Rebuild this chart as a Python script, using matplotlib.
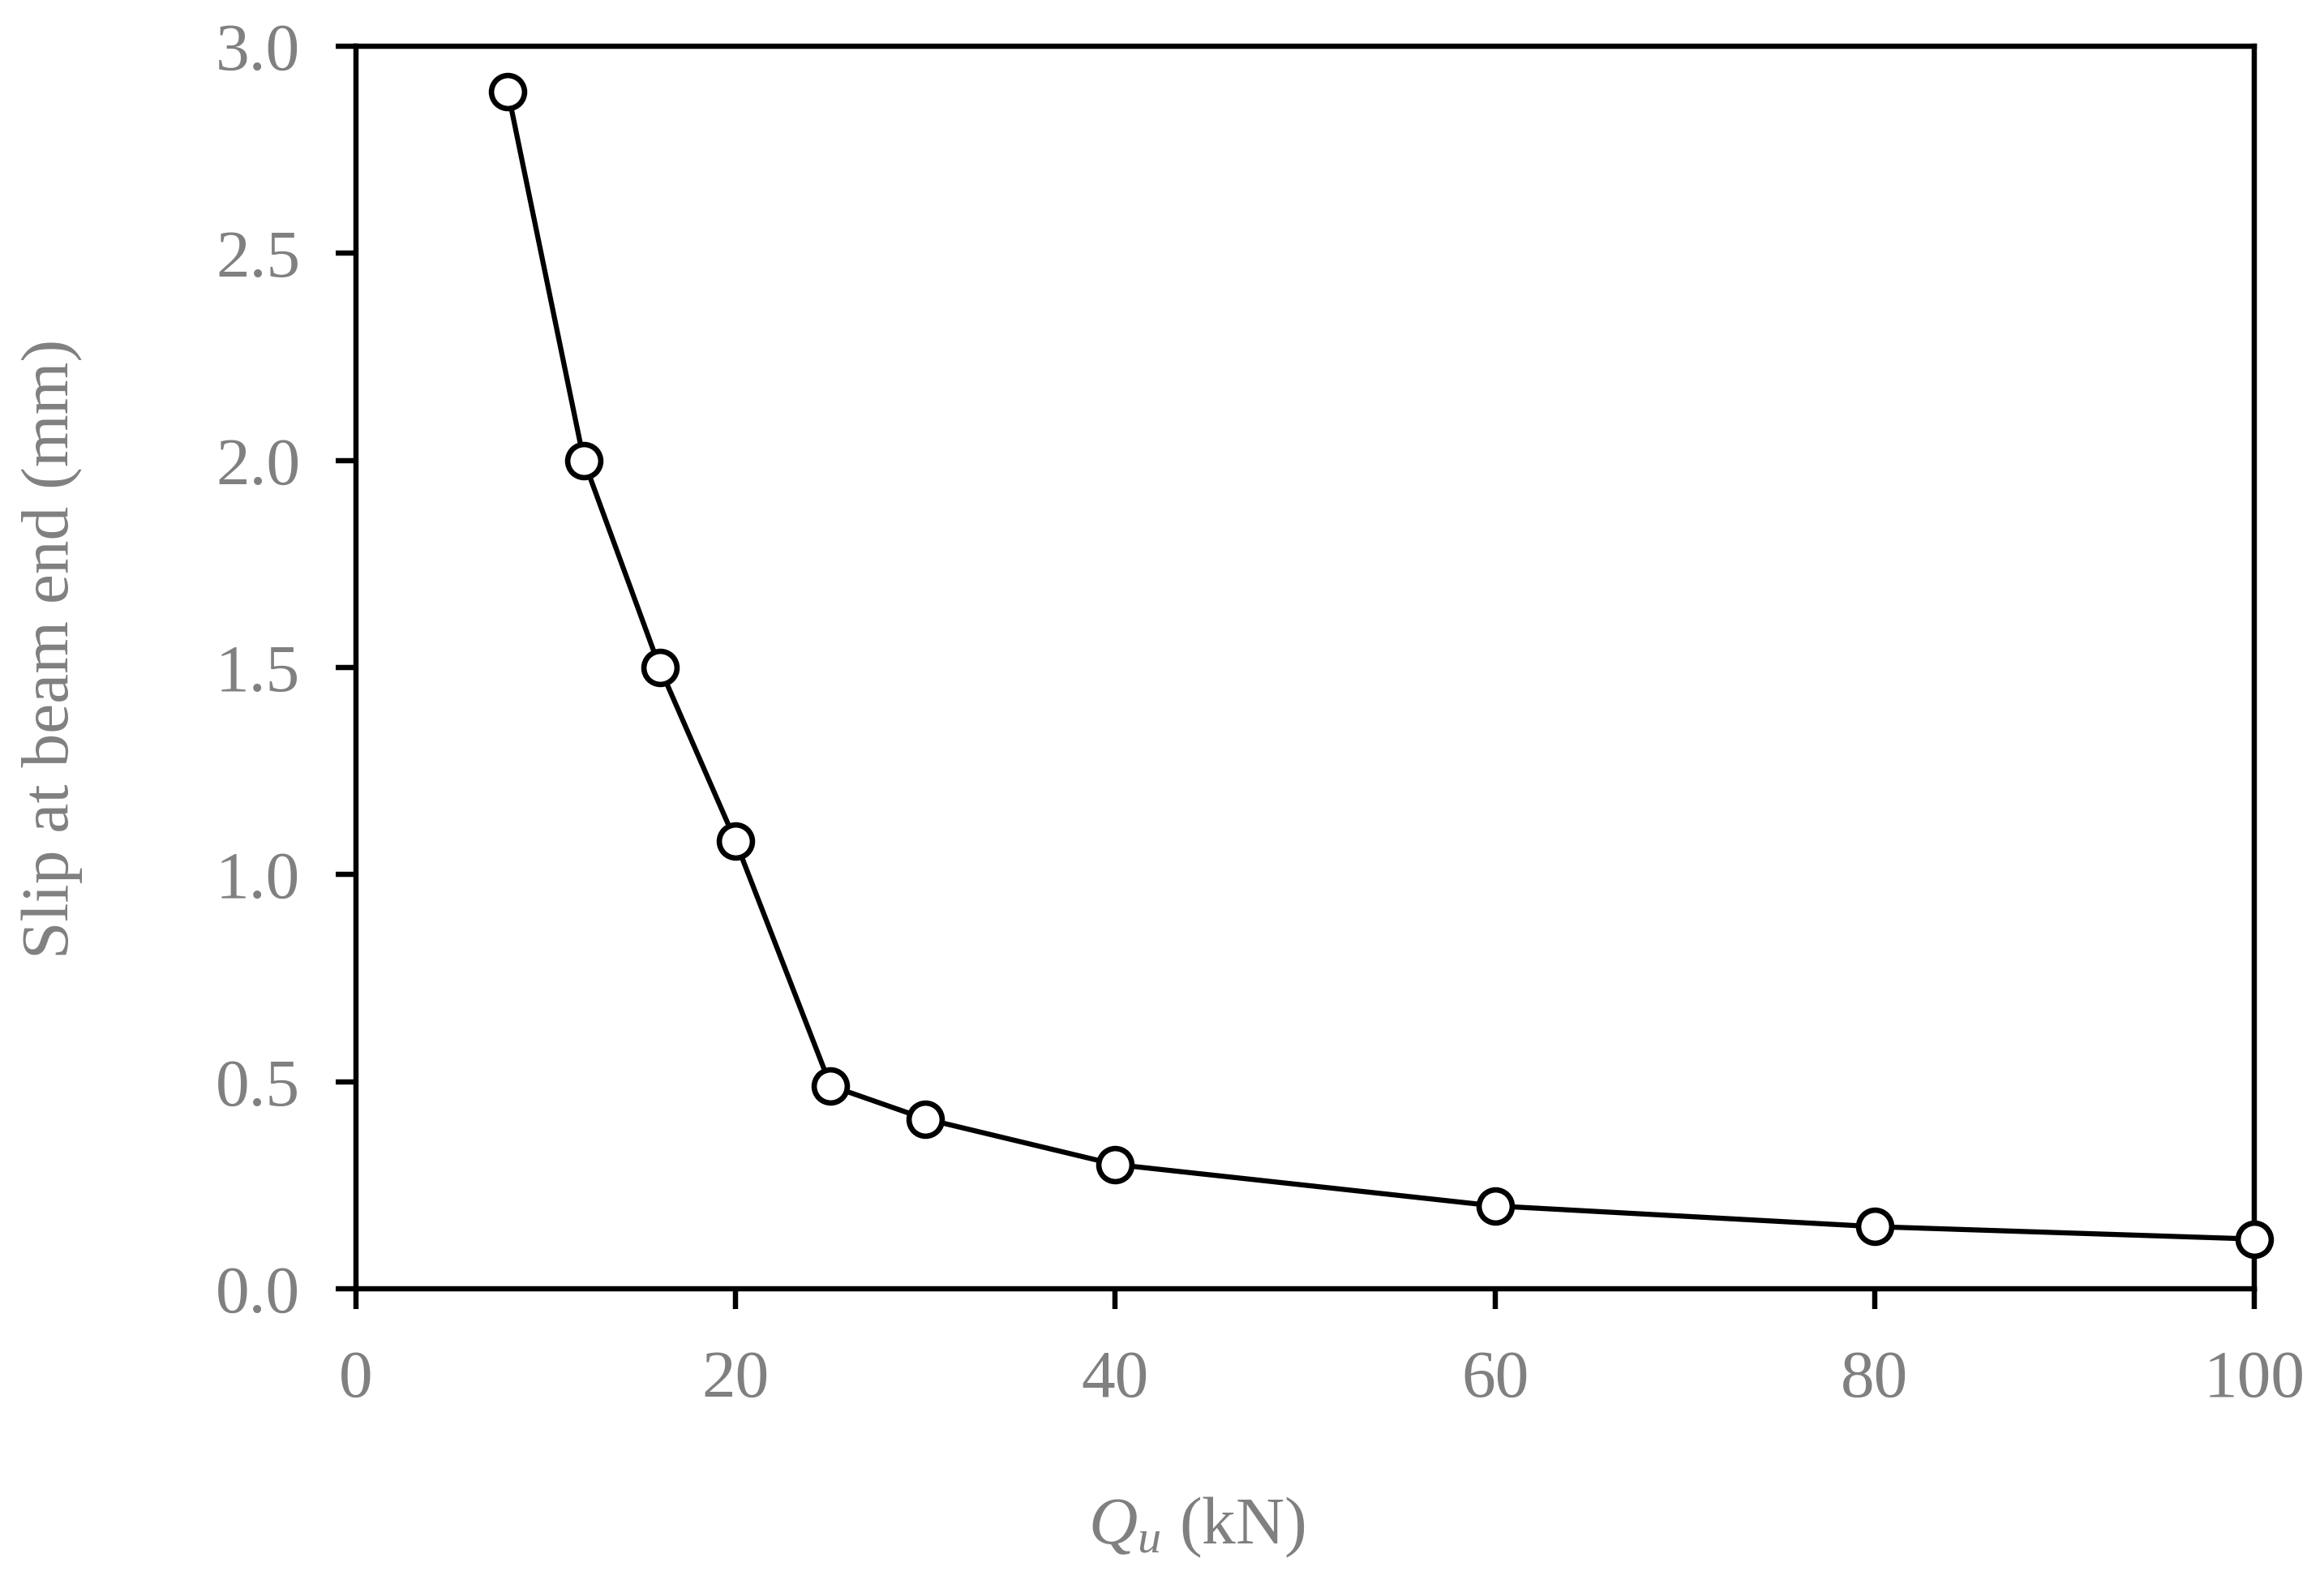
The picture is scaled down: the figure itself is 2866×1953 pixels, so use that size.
import numpy as np
import matplotlib
matplotlib.use("Agg")
import matplotlib.pyplot as plt
from matplotlib.ticker import FormatStrFormatter

# values
qu = [8, 12, 16, 20, 25, 30, 40, 60, 80, 100]
slip = [2.89, 2.00, 1.50, 1.08, 0.49, 0.41, 0.30, 0.20, 0.15, 0.12]
xticks = [0, 20, 40, 60, 80, 100]
yticks = [0.0, 0.5, 1.0, 1.5, 2.0, 2.5, 3.0]

gray = "#808080"
plt.rcParams["font.family"] = ["Liberation Serif", "DejaVu Serif"]
plt.rcParams["mathtext.fontset"] = "custom"
plt.rcParams["mathtext.rm"] = "Liberation Serif"
plt.rcParams["mathtext.it"] = "Liberation Serif:italic"

fig = plt.figure(figsize=(2866 / 300, 1953 / 300), dpi=300)
ax = fig.add_axes([0.1532, 0.1864, 0.970 - 0.1532, 0.9708 - 0.1864])

ax.plot(qu, slip, color="black", lw=1.5, marker="o", ms=9.8,
        mfc="white", mec="black", mew=1.6, clip_on=False, zorder=3)

ax.set_xlim(0, 100)
ax.set_ylim(0, 3.0)
ax.set_xticks(xticks)
ax.set_yticks(yticks)
ax.yaxis.set_major_formatter(FormatStrFormatter("%.1f"))

for s in ax.spines.values():
    s.set_linewidth(1.55)
ax.tick_params(direction="out", length=6, width=1.55, labelsize=20,
               labelcolor=gray)
ax.tick_params(axis="x", pad=12)
ax.tick_params(axis="y", pad=10.5)

ax.set_xlabel(r"$Q_u$ (kN)", fontsize=20, color=gray)
ax.xaxis.set_label_coords(0.443, -0.166)
ax.set_ylabel("Slip at beam end (mm)", fontsize=20, color=gray)
ax.yaxis.set_label_coords(-0.144, 0.515)

fig.savefig("out.png", dpi=300)
